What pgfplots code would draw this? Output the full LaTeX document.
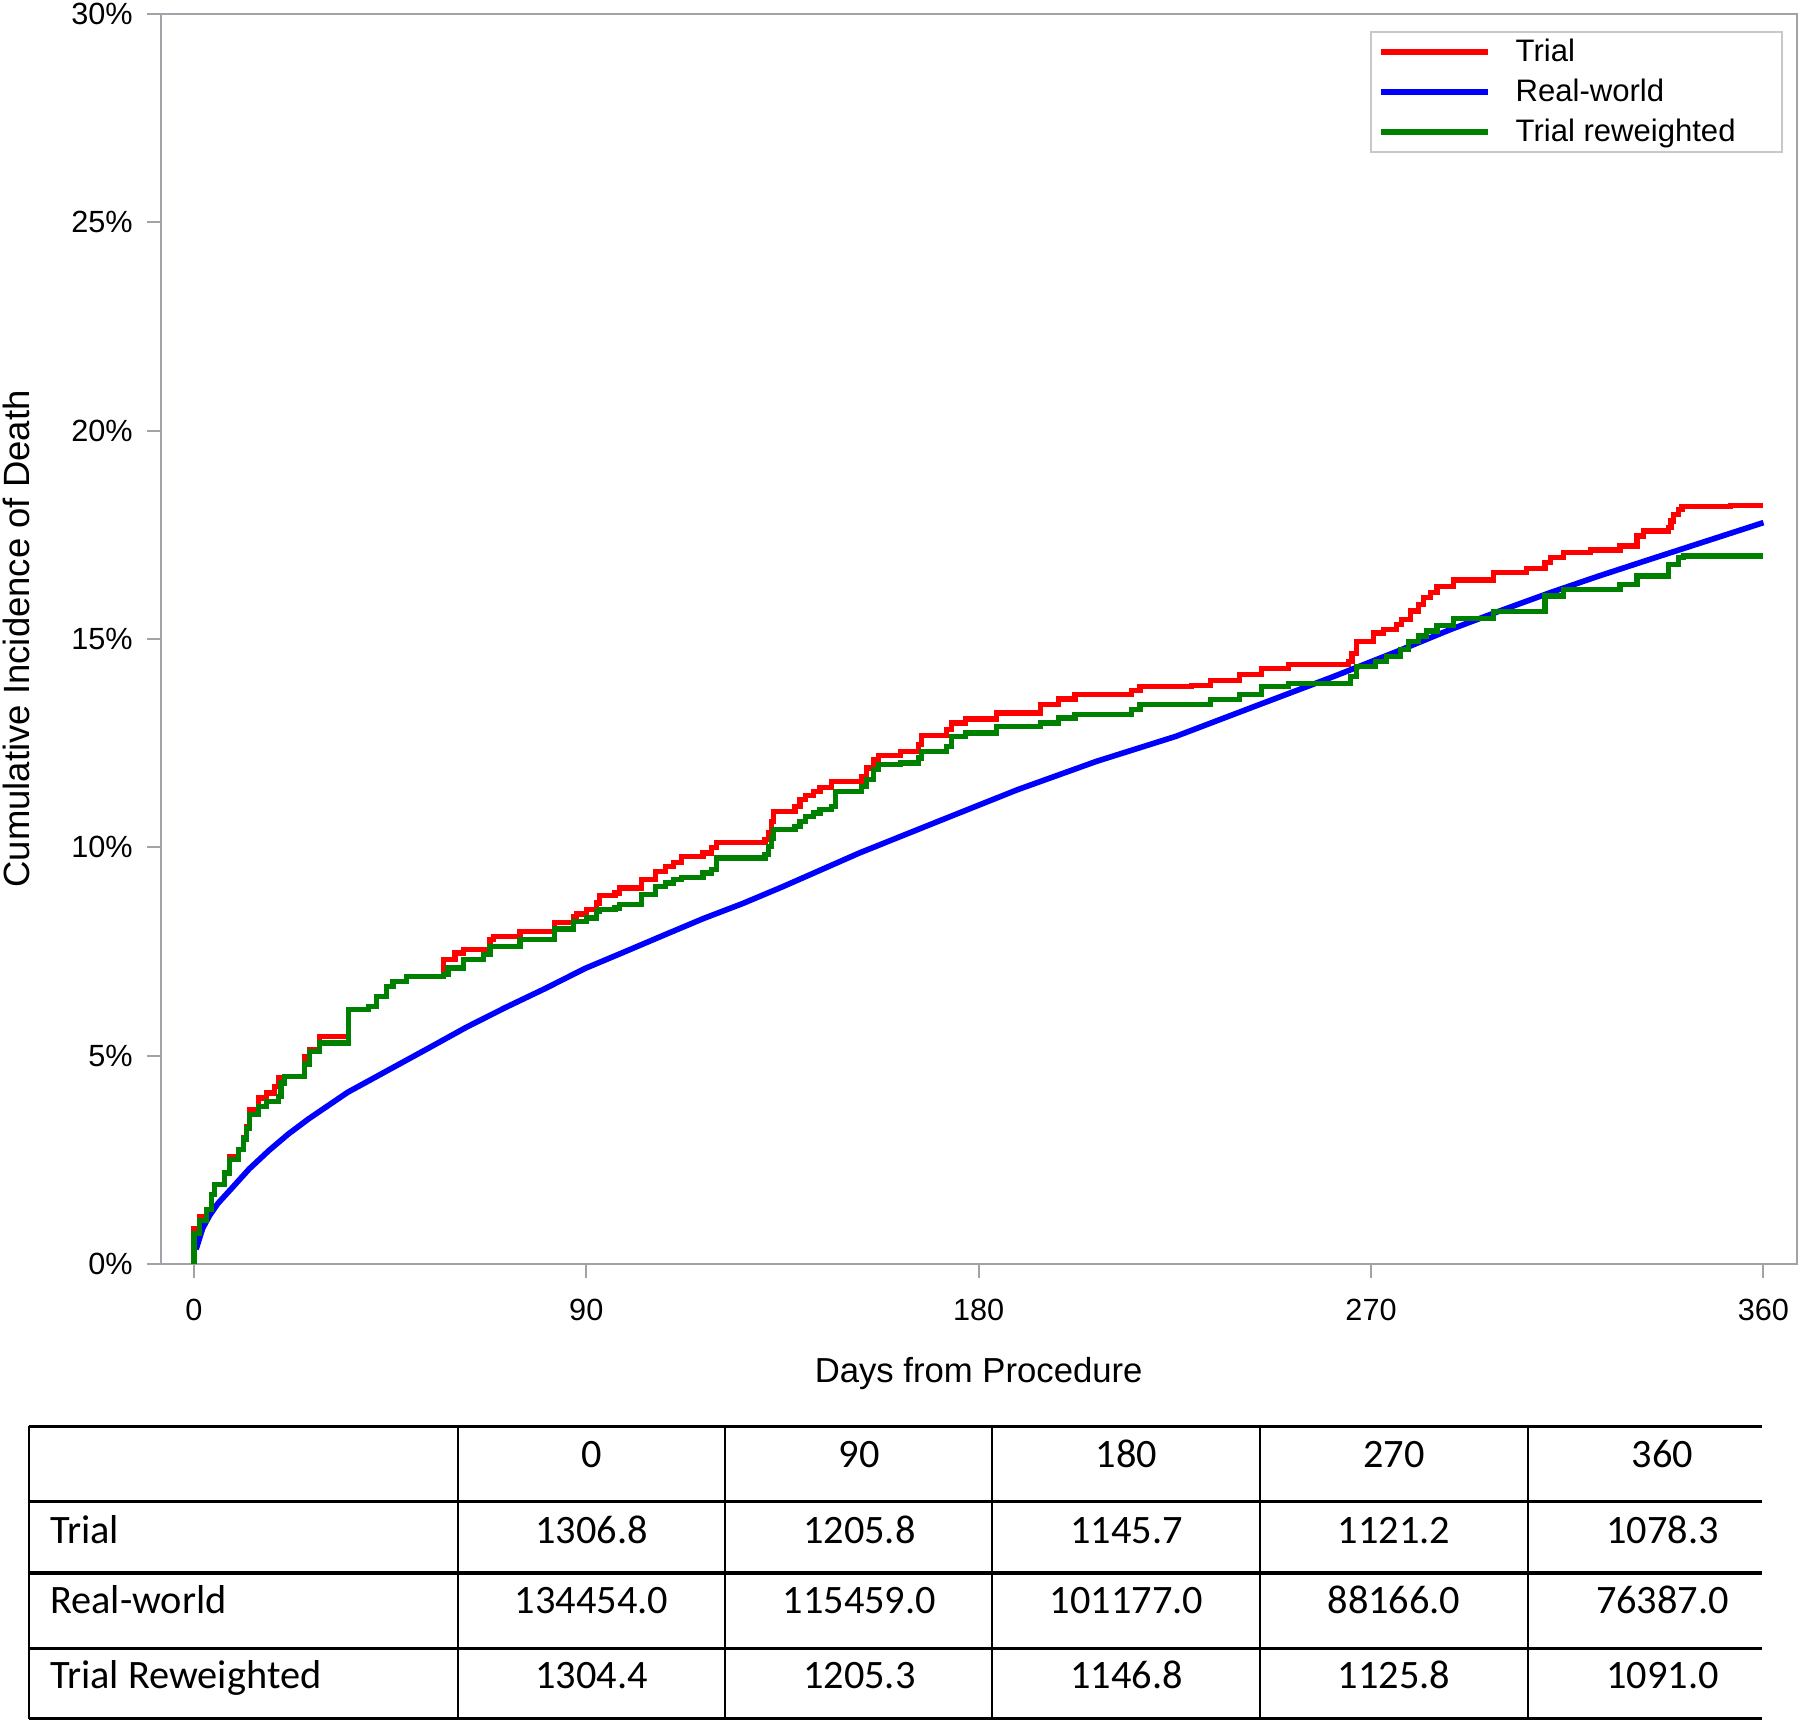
\documentclass[border=0pt]{standalone}
\usepackage{pgfplots}
\pgfplotsset{compat=1.18}
\usepackage{fontspec}
\setmainfont{Liberation Sans}
\newfontfamily\tablefont{Carlito}
\definecolor{axgray}{RGB}{160,164,168}
\definecolor{leggray}{RGB}{200,200,200}
\definecolor{kmgreen}{RGB}{0,128,0}

\pgfplotstableread{
day pct
0 0
0.05 0.85
1.37 1.14
2.9 1.26
4.05 1.66
4.81 1.90
7.1 2.18
8.25 2.58
10.16 2.74
11.31 3.02
12.08 3.30
12.84 3.70
14.75 3.98
16.66 4.10
18.5 4.26
19.34 4.46
20.87 4.50
25.46 4.98
26.61 5.14
28.9 5.46
35.4 6.10
40.0 6.18
41.9 6.42
44.2 6.66
45.7 6.78
48.8 6.90
57.2 7.30
59.9 7.46
61.8 7.54
67.9 7.78
68.7 7.86
74.8 7.98
82.8 8.20
87.0 8.34
87.8 8.40
90.1 8.50
92.4 8.66
93.1 8.84
96.6 8.90
97.7 9.02
102.7 9.22
105.8 9.42
108.1 9.53
110.0 9.64
111.9 9.77
116.8 9.86
118.8 10.00
119.9 10.12
131.0 10.18
131.8 10.34
132.5 10.62
132.9 10.86
137.9 10.98
139.0 11.14
140.2 11.25
142.1 11.34
143.6 11.44
146.3 11.58
153.2 11.70
154.3 11.90
155.8 12.10
157.0 12.20
162.0 12.30
166.2 12.46
166.9 12.68
172.7 12.82
173.8 12.98
176.9 13.08
184.1 13.22
194.1 13.42
198.3 13.56
202.1 13.66
215.1 13.77
217.0 13.86
228.9 13.89
233.1 14.01
239.9 14.15
244.9 14.28
251.0 14.39
264.8 14.46
265.6 14.65
266.7 14.94
270.6 15.14
272.8 15.22
275.9 15.34
277.0 15.47
279.0 15.67
280.9 15.82
282.0 15.99
283.6 16.11
285.1 16.25
288.9 16.41
298.1 16.59
305.7 16.68
309.9 16.83
311.1 16.95
314.1 17.08
320.3 17.13
327.1 17.23
331.0 17.47
332.5 17.59
338.2 17.67
338.8 17.83
339.4 17.99
340.5 18.11
341.3 18.17
352.4 18.20
360 18.20
}\trialdata

\pgfplotstableread{
day pct
0.5 0.35
0.9 0.48
2 0.85
3.6 1.16
5.5 1.45
8.2 1.76
12.7 2.28
17.2 2.72
21.7 3.12
26.3 3.48
35.3 4.12
44.4 4.64
53.5 5.16
62.5 5.68
71.6 6.16
80.6 6.61
89.7 7.09
98.8 7.49
107.8 7.89
116.9 8.29
125.9 8.65
135.0 9.05
152.6 9.86
170.7 10.62
188.9 11.38
207.0 12.06
225.2 12.66
243.3 13.38
261.5 14.10
276.0 14.70
288.1 15.22
299 15.65
311.1 16.11
322 16.5
334 16.91
347 17.35
360 17.79
}\realdata

\pgfplotstableread{
day pct
0 0
0.05 0.73
1.37 1.05
2.9 1.30
4.05 1.66
4.81 1.90
7.1 2.18
8.25 2.50
10.16 2.74
11.31 3.00
12.08 3.25
12.84 3.58
14.75 3.78
16.66 3.90
19.34 4.02
20.0 4.34
20.87 4.50
25.46 4.80
26.61 5.10
28.9 5.30
35.4 6.10
40.0 6.18
41.9 6.42
44.2 6.66
45.7 6.78
48.8 6.90
57.2 6.94
58.3 7.10
61.8 7.30
66.4 7.42
67.9 7.62
74.8 7.78
82.8 8.04
87.0 8.22
90.1 8.30
92.4 8.46
93.1 8.50
96.6 8.54
97.7 8.62
102.7 8.86
105.8 9.06
108.1 9.14
110.0 9.22
111.9 9.28
116.8 9.38
118.8 9.46
119.9 9.74
131.0 9.82
131.8 10.02
132.5 10.22
132.9 10.42
137.9 10.50
139.0 10.62
140.2 10.74
142.1 10.82
143.6 10.90
146.3 10.98
147.1 11.34
153.2 11.46
154.3 11.62
155.8 11.86
157.0 11.98
162.0 12.02
166.2 12.14
166.9 12.30
172.7 12.42
173.8 12.66
176.9 12.74
184.1 12.89
194.1 12.98
198.3 13.10
202.1 13.18
215.1 13.30
217.0 13.42
233.1 13.54
239.9 13.66
244.9 13.85
251.0 13.93
265.2 14.10
266.7 14.34
271.0 14.46
273.6 14.58
276.7 14.74
278.6 14.94
280.9 15.07
282.8 15.19
285.1 15.32
288.9 15.48
298.1 15.66
309.9 16.03
314.1 16.19
327.1 16.31
331.0 16.51
338.2 16.79
340.5 16.95
341.7 16.99
360 16.99
}\reweighteddata

\begin{document}
\begin{tikzpicture}
\path[use as bounding box] (0,0) rectangle (15.68cm,-15cm);
\begin{axis}[
  at={(1.40cm,-11.01cm)}, anchor=south west,
  scale only axis, width=14.25cm, height=10.89cm,
  xmin=-7.6, xmax=367.6, ymin=0, ymax=30,
  xtick={0,90,180,270,360}, xticklabels={0,90,180,270,360},
  ytick={0,5,10,15,20,25,30},
  yticklabels={0\%,5\%,10\%,15\%,20\%,25\%,30\%},
  tick align=outside, major tick length=0.12cm,
  xtick pos=bottom, ytick pos=left,
  axis line style={axgray, line width=0.5pt},
  every tick/.style={axgray, line width=0.5pt},
  tick label style={font=\fontsize{7.6}{9}\selectfont, black},
  xticklabel style={yshift=-0.06cm},
  xlabel={Days from Procedure}, ylabel={Cumulative Incidence of Death},
  every axis x label/.style={at={(axis description cs:0.5,-0.0875)}, anchor=center, font=\fontsize{8.6}{10}\selectfont},
  every axis y label/.style={at={(axis description cs:-0.0884,0.5)}, rotate=90, anchor=center, font=\fontsize{9.05}{11}\selectfont},
  legend cell align=left,
  legend style={at={(axis description cs:0.9916,0.9862)}, anchor=north east,
    draw=leggray, line width=0.5pt, inner xsep=0.06cm, inner ysep=0pt,
    font=\fontsize{7.7}{9}\selectfont, row sep=0pt,
    nodes={inner sep=0.8pt, text height=6.5pt, text depth=1.8pt},
    /tikz/every odd column/.append style={column sep=0.19cm}},
  legend image code/.code={\draw[#1] (0cm,0cm) -- (0.93cm,0cm);},
]
\addplot[const plot, red, line width=1.3pt] table[x=day,y=pct] {\trialdata};
\addlegendentry{\makebox[2.23cm][l]{Trial}}
\addplot[blue, line width=1.4pt] table[x=day,y=pct] {\realdata};
\addlegendentry{\makebox[2.23cm][l]{Real-world}}
\addplot[const plot, kmgreen, line width=1.3pt] table[x=day,y=pct] {\reweighteddata};
\addlegendentry{\makebox[2.23cm][l]{Trial reweighted}}
\end{axis}
\begin{scope}[x=0.01cm, y=-0.01cm]
  \foreach \yy in {1243,1309,1371,1437,1498} \draw[line width=0.8pt] (25,\yy) -- (1536,\yy);
  \foreach \xx in {25,399,632,865,1098,1332} \draw[line width=0.5pt] (\xx,1243) -- (\xx,1498);
  \begin{scope}[every node/.style={font=\tablefont\fontsize{10}{12}\selectfont, inner sep=0pt}]
    \node[anchor=base] at (515.5,1279) {0};
    \node[anchor=base] at (749,1279) {90};
    \node[anchor=base] at (982,1279) {180};
    \node[anchor=base] at (1215,1279) {270};
    \node[anchor=base] at (1449,1279) {360};
    \node[anchor=base west] at (43,1345) {Trial};
    \node[anchor=base] at (515.5,1345) {1306.8};
    \node[anchor=base] at (749,1345) {1205.8};
    \node[anchor=base] at (982,1345) {1145.7};
    \node[anchor=base] at (1215,1345) {1121.2};
    \node[anchor=base] at (1449,1345) {1078.3};
    \node[anchor=base west] at (43,1406) {Real-world};
    \node[anchor=base] at (515.5,1406) {134454.0};
    \node[anchor=base] at (749,1406) {115459.0};
    \node[anchor=base] at (982,1406) {101177.0};
    \node[anchor=base] at (1215,1406) {88166.0};
    \node[anchor=base] at (1449,1406) {76387.0};
    \node[anchor=base west] at (43,1472) {Trial Reweighted};
    \node[anchor=base] at (515.5,1472) {1304.4};
    \node[anchor=base] at (749,1472) {1205.3};
    \node[anchor=base] at (982,1472) {1146.8};
    \node[anchor=base] at (1215,1472) {1125.8};
    \node[anchor=base] at (1449,1472) {1091.0};
  \end{scope}
\end{scope}
\end{tikzpicture}
\end{document}
